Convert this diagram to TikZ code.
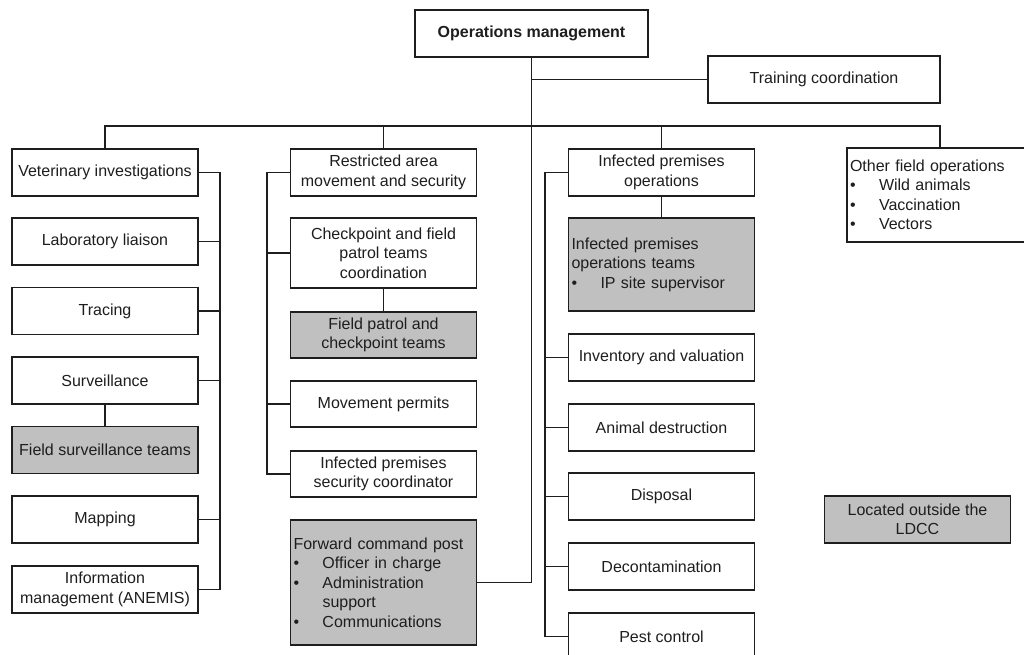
\documentclass[tikz,border=0pt]{standalone}
\usepackage{fontspec}
\setmainfont{Liberation Sans}
\definecolor{ink}{RGB}{30,30,30}
\definecolor{teamgray}{RGB}{192,192,192}
% bullet with a hanging indent for the list boxes
\newcommand\listdot{\makebox[29pt][l]{\textbullet}}
\begin{document}
\begin{tikzpicture}[x=1pt,y=-1pt,
  every node/.style={font=\fontsize{16}{19.5}\selectfont, text=ink},
  unit/.style={draw=ink, line width=1.8pt, fill=white, align=center,
    inner sep=2pt, minimum width=186pt, minimum height=47pt},
  team/.style={unit, fill=teamgray},
  listbox/.style={align=left, text width=180pt, inner xsep=3pt},
  link/.style={draw=ink, line width=1.9pt},
]
\clip (0,0) rectangle (1024,655);
\fill[white] (0,0) rectangle (1024,655);

% spines and bus positions
\coordinate (bus) at (0,126);
\coordinate (lspine) at (220,0);
\coordinate (mspine) at (267,0);
\coordinate (rspine) at (545,0);

% top level
\node[unit, minimum width=233pt] (ops) at (531.5,33.5) {\bfseries Operations management};
\node[unit, minimum width=232pt] (train) at (824,79.5) {Training coordination};

% section heads
\node[unit] (vet) at (105,172.5) {Veterinary investigations};
\node[unit] (restr) at (383.5,172.5) {Restricted area\\movement and security};
\node[unit] (ipo) at (661.5,172.5) {Infected premises\\operations};
\node[unit, listbox, minimum height=94pt] (other) at (940,195)
  {Other field operations\\\listdot Wild animals\\\listdot Vaccination\\\listdot Vectors};

% veterinary investigations column
\node[unit] (lab) at (105,241.5) {Laboratory liaison};
\node[unit] (trace) at (105,311) {Tracing};
\node[unit] (surv) at (105,380.5) {Surveillance};
\node[team] (fst) at (105,450) {Field surveillance teams};
\node[unit] (map) at (105,519.5) {Mapping};
\node[unit] (info) at (105,589.5) {Information\\management (ANEMIS)};

% restricted area column
\node[unit, minimum height=70pt] (chk) at (383.5,253) {Checkpoint and field\\patrol teams\\coordination};
\node[team, minimum height=46pt] (fpt) at (383.5,335) {Field patrol and\\checkpoint teams};
\node[unit, minimum height=46pt] (perm) at (383.5,404) {Movement permits};
\node[unit, minimum height=46pt] (ipsec) at (383.5,474) {Infected premises\\security coordinator};
\node[team, listbox, minimum height=125pt] (fcp) at (383.5,582.5)
  {Forward command post\\\listdot Officer in charge\\\listdot Administration\\\hspace*{29pt}support\\\listdot Communications};

% infected premises column
\node[team, listbox, minimum height=93pt] (ipot) at (661.5,264.5)
  {Infected premises\\operations teams\\\listdot IP site supervisor};
\node[unit] (inv) at (661.5,357.5) {Inventory and valuation};
\node[unit] (dest) at (661.5,427.5) {Animal destruction};
\node[unit] (disp) at (661.5,496.5) {Disposal};
\node[unit] (decon) at (661.5,566.5) {Decontamination};
\node[unit] (pest) at (661.5,636.5) {Pest control};

% legend
\node[team] (outside) at (917.5,519.5) {Located outside the\\LDCC};

% connectors from operations management
\draw[link] (ops.south) |- (fcp.east);
\draw[link] (ops.south |- train.west) -- (train.west);
\draw[link] (vet.north) -- (vet.north |- bus) -- (other.north |- bus) -- (other.north);
\draw[link] (restr.north) -- (restr.north |- bus);
\draw[link] (ipo.north) -- (ipo.north |- bus);

% veterinary investigations spine
\draw[link] (vet.east) -- (vet.east -| lspine) -- (info.east -| lspine) -- (info.east);
\foreach \n in {lab,trace,surv,map}
  \draw[link] (\n.east) -- (\n.east -| lspine);
\draw[link] (surv.south) -- (fst.north);

% restricted area spine
\draw[link] (restr.west) -- (restr.west -| mspine) -- (ipsec.west -| mspine) -- (ipsec.west);
\foreach \n in {chk,perm}
  \draw[link] (\n.west) -- (\n.west -| mspine);
\draw[link] (chk.south) -- (fpt.north);

% infected premises spine
\draw[link] (ipo.west) -- (ipo.west -| rspine) -- (pest.west -| rspine) -- (pest.west);
\foreach \n in {inv,dest,disp,decon}
  \draw[link] (\n.west) -- (\n.west -| rspine);
\draw[link] (ipo.south) -- (ipot.north);
\end{tikzpicture}
\end{document}
